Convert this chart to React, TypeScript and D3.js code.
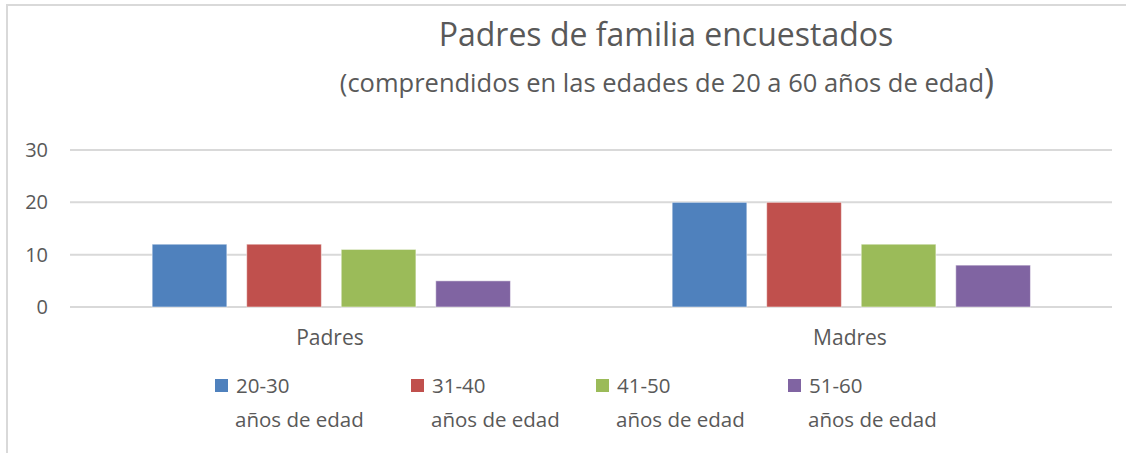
import React from "react";
import { scaleBand, scaleLinear } from "d3";

const categories = ["Padres", "Madres"];
const seriesNames = ["20-30", "31-40", "41-50", "51-60"];
const seriesSub = "años de edad";
const values = [
  [12, 20], // 20-30
  [12, 20], // 31-40
  [11, 12], // 41-50
  [5, 8], // 51-60
];
const yTicks = [0, 10, 20, 30];
const colors = ["#4F81BD", "#C0504D", "#9BBB59", "#8064A2"];

const width = 1126;
const height = 453;
const margin = { top: 150, right: 14, bottom: 146, left: 70 };
const innerWidth = width - margin.left - margin.right;
const innerHeight = height - margin.top - margin.bottom;
const font = "'Open Sans', 'Noto Sans', sans-serif";
const textColor = "#595959";

export default function App() {
  const x = scaleBand().domain(categories).range([0, innerWidth - 2]);
  const x1 = scaleBand()
    .domain(seriesNames)
    .range([x.bandwidth() * 0.158, x.bandwidth() * 0.847])
    .paddingInner(0.21);
  const y = scaleLinear().domain([0, 30]).range([innerHeight, 0]);

  const legendX = [215, 411, 596, 788];

  return (
    <svg
      width={width}
      height={height}
      style={{ position: "absolute", left: 0, top: 0, background: "#fff" }}
      fontFamily={font}
    >
      {/* chart frame */}
      <line x1={7} y1={4} x2={7} y2={height} stroke="#D9D9D9" strokeWidth={2} />
      <line x1={6} y1={5} x2={width} y2={5} stroke="#D9D9D9" strokeWidth={2} />

      <text x={666} y={46} textAnchor="middle" fontSize={32} fill={textColor}>
        Padres de familia encuestados
      </text>
      <text x={667} y={92} textAnchor="middle" fontSize={25.5} fill={textColor}>
        (comprendidos en las edades de 20 a 60 años de edad<tspan fontSize={34} dy={1}>)</tspan>
      </text>

      <g transform={`translate(${margin.left}, ${margin.top})`}>
        {yTicks.map((t) => (
          <g key={t} transform={`translate(0, ${y(t)})`}>
            <line x2={innerWidth} stroke="#D9D9D9" strokeWidth={2} />
            <text x={-22} dy=".35em" textAnchor="end" fontSize={20} fill={textColor}>
              {t}
            </text>
          </g>
        ))}
        {categories.map((c, ci) => (
          <g key={c} transform={`translate(${x(c)}, 0)`}>
            {seriesNames.map((s, si) => (
              <rect
                key={s}
                x={x1(s)}
                y={y(values[si][ci])}
                width={x1.bandwidth()}
                height={innerHeight - y(values[si][ci])}
                fill={colors[si]}
                stroke="#fff"
                strokeOpacity={0.5}
              />
            ))}
            <text
              x={x.bandwidth() / 2}
              y={innerHeight + 38}
              textAnchor="middle"
              fontSize={21}
              fill={textColor}
            >
              {c}
            </text>
          </g>
        ))}
      </g>

      {seriesNames.map((s, i) => (
        <g key={s} transform={`translate(${legendX[i]}, 0)`}>
          <rect x={0} y={379} width={13} height={13} fill={colors[i]} />
          <text x={21} y={393} fontSize={20.5} fill={textColor}>
            {s}
          </text>
          <text x={20} y={427} fontSize={20.5} fill={textColor}>
            {seriesSub}
          </text>
        </g>
      ))}
    </svg>
  );
}
